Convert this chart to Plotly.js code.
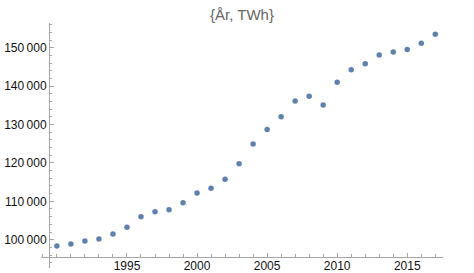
<!DOCTYPE html>
<html>
<head>
<meta charset="utf-8">
<script src="https://cdn.plot.ly/plotly-3.0.1.min.js"></script>
<style>html,body{margin:0;padding:0;background:#fff;}#chart{width:474px;height:273px;}</style>
</head>
<body>
<div id="chart"></div>
<script>
const years = [1990,1991,1992,1993,1994,1995,1996,1997,1998,1999,2000,2001,2002,2003,2004,2005,2006,2007,2008,2009,2010,2011,2012,2013,2014,2015,2016,2017];
const twh = [98350,98870,99650,100170,101480,103210,105990,107290,107810,109640,112150,113370,115710,119790,124910,128730,132030,136110,137330,135070,140970,144270,145830,148090,148870,149560,151130,153470];
const xTickVals = [1995,2000,2005,2010,2015];
const xTickText = ["1995","2000","2005","2010","2015"];
const yTickVals = [100000,110000,120000,130000,140000,150000];
const yTickText = ["100\u2009000","110\u2009000","120\u2009000","130\u2009000","140\u2009000","150\u2009000"];
const chartTitle = "{År, TWh}";

const axisColor = "#a6a6a6";
const tickFont = {family:"Liberation Sans, Arial, sans-serif", size:12, color:"#111"};

Plotly.newPlot("chart", [{
  x: years, y: twh, type: "scatter", mode: "markers",
  marker: {color: "#5e81b5", size: 5.5},
  hoverinfo: "skip"
}], {
  width: 474, height: 273,
  margin: {l: 41, r: 31, t: 23, b: 5, pad: 0},
  paper_bgcolor: "#fff", plot_bgcolor: "#fff",
  showlegend: false,
  title: {text: chartTitle, x: 0.5, xref: "paper", y: 1 - 15/273, yref: "container", yanchor: "middle",
          font: {family: "Liberation Sans, Arial, sans-serif", size: 15, color: "#666"}},
  xaxis: {
    range: [1988.866, 2017.55], anchor: "free", position: 0.0449,
    showgrid: false, zeroline: false, showline: true, linecolor: axisColor, linewidth: 1,
    tickmode: "array", tickvals: xTickVals, ticktext: xTickText,
    ticks: "inside", ticklen: 4, tickcolor: axisColor, tickwidth: 1,
    ticklabelstandoff: -2,
    minor: {dtick: 1, tick0: 1990, ticks: "inside", ticklen: 2.5, tickcolor: axisColor, showgrid: false},
    tickfont: tickFont, automargin: false
  },
  yaxis: {
    range: [92630, 156432], anchor: "free", position: 0.0199,
    showgrid: false, zeroline: false, showline: true, linecolor: axisColor, linewidth: 1,
    tickmode: "array", tickvals: yTickVals, ticktext: yTickText,
    ticks: "inside", ticklen: 4, tickcolor: axisColor, tickwidth: 1,
    minor: {dtick: 2000, tick0: 0, ticks: "inside", ticklen: 2.5, tickcolor: axisColor, showgrid: false},
    tickfont: tickFont, automargin: false
  }
}, {staticPlot: true, displayModeBar: false});
</script>
</body>
</html>
